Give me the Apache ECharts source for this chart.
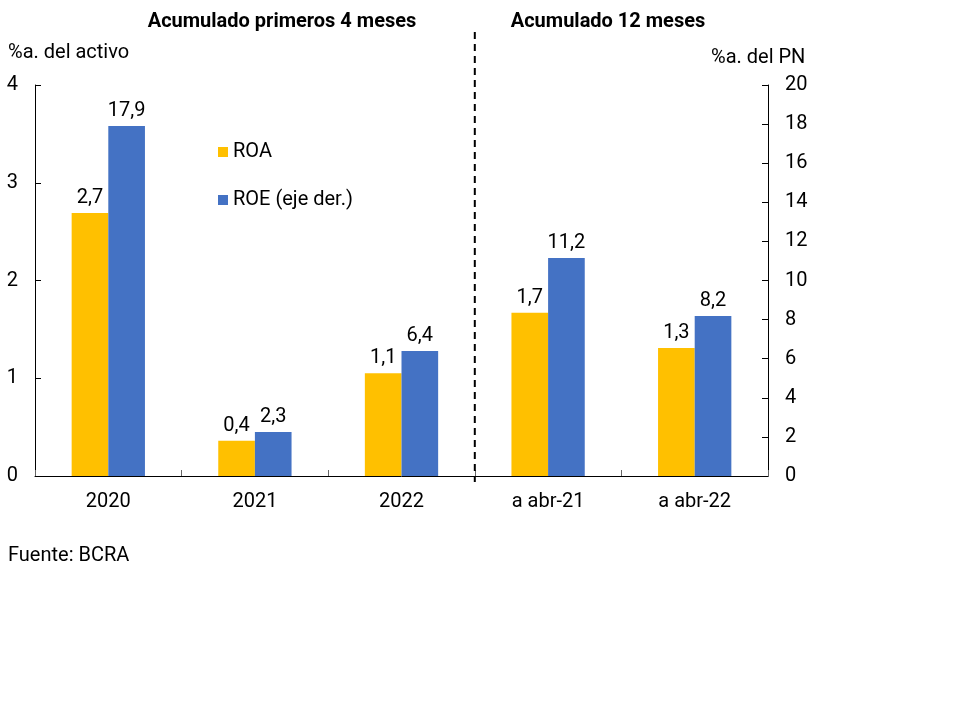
<!DOCTYPE html>
<html><head><meta charset="utf-8">
<script src="https://cdn.jsdelivr.net/npm/echarts@6/dist/echarts.min.js"></script>
<style>html,body{margin:0;padding:0;background:#fff}#c{width:960px;height:720px}</style>
</head><body><div id="c"></div>
<script>
const categories = ['2020','2021','2022','a abr-21','a abr-22'];
const roa = [2.69, 0.36, 1.05, 1.67, 1.31];
const roe = [17.9, 2.25, 6.39, 11.15, 8.18];
const leftTicks = [0, 4, 1];   // min, max, interval
const rightTicks = [0, 20, 2];
const FONT = 'Roboto';
const FS = 20;
const fmt = p => p.value.toFixed(1).replace('.', ',');
const chart = echarts.init(document.getElementById('c'));
const grid = {left: 35, right: 192, top: 85, bottom: 244};
const axisLine = {show: true, lineStyle: {color: '#000', width: 1}};
const t = (o) => Object.assign({padding: 0}, o);
chart.setOption({
  animation: false,
  textStyle: {fontFamily: FONT},
  title: [
    t({text: 'Acumulado primeros 4 meses', left: 282, top: 12, textAlign: 'center',
     textStyle: {fontFamily: FONT, fontSize: FS, fontWeight: 'bold', color: '#000'}}),
    t({text: 'Acumulado 12 meses', left: 608, top: 12, textAlign: 'center',
     textStyle: {fontFamily: FONT, fontSize: FS, fontWeight: 'bold', color: '#000'}}),
    t({text: '%a. del activo', left: 8, top: 43,
     textStyle: {fontFamily: FONT, fontSize: FS, fontWeight: 'normal', color: '#000'}}),
    t({text: '%a. del PN', left: 711, top: 48,
     textStyle: {fontFamily: FONT, fontSize: FS, fontWeight: 'normal', color: '#000'}}),
    t({text: 'Fuente: BCRA', left: 8, top: 546,
     textStyle: {fontFamily: FONT, fontSize: FS, fontWeight: 'normal', color: '#000'}})
  ],
  legend: {
    orient: 'vertical', left: 218, top: 142, padding: 0, itemWidth: 10, itemHeight: 10, itemGap: 28, itemTextGap: 10,
    icon: 'rect', textStyle: {fontFamily: FONT, fontSize: FS, color: '#000'},
    data: ['ROA', 'ROE (eje der.)']
  },
  grid: grid,
  xAxis: {
    type: 'category', data: categories,
    axisLine: axisLine,
    axisTick: {show: true, inside: true, length: 6, alignWithLabel: false, lineStyle: {color: '#666'}},
    axisLabel: {fontFamily: FONT, fontSize: FS, color: '#000', margin: 16}
  },
  yAxis: [
    {type: 'value', min: leftTicks[0], max: leftTicks[1], interval: leftTicks[2],
     axisLine: axisLine, axisTick: {show: true, inside: true, length: 6, lineStyle: {color: '#000'}},
     splitLine: {show: false},
     axisLabel: {fontFamily: FONT, fontSize: FS, color: '#000', margin: 17}},
    {type: 'value', min: rightTicks[0], max: rightTicks[1], interval: rightTicks[2], position: 'right',
     axisLine: axisLine, axisTick: {show: true, inside: true, length: 6, lineStyle: {color: '#000'}},
     splitLine: {show: false},
     axisLabel: {fontFamily: FONT, fontSize: FS, color: '#000', margin: 17}}
  ],
  series: [
    {name: 'ROA', type: 'bar', data: roa, yAxisIndex: 0, barGap: '0%', barCategoryGap: '50%',
     itemStyle: {color: '#FFC000'},
     label: {show: true, position: 'top', formatter: fmt, fontFamily: FONT, fontSize: FS, color: '#000', distance: 5}},
    {name: 'ROE (eje der.)', type: 'bar', data: roe, yAxisIndex: 1, barGap: '0%', barCategoryGap: '50%',
     itemStyle: {color: '#4472C4'},
     label: {show: true, position: 'top', formatter: fmt, fontFamily: FONT, fontSize: FS, color: '#000', distance: 5}}
  ]
});
// dashed separator between the two groups (boundary between category 3 and 4)
const p2 = chart.convertToPixel({xAxisIndex: 0}, categories[2]);
const p3 = chart.convertToPixel({xAxisIndex: 0}, categories[3]);
const xs = (p2 + p3) / 2;
const y0 = chart.convertToPixel({yAxisIndex: 0}, 0);
chart.setOption({
  graphic: [{type: 'line', shape: {x1: xs, y1: 32, x2: xs, y2: y0 + 6},
    style: {stroke: '#000', lineWidth: 2, lineDash: [7, 5]}, z: 100}]
});
</script></body></html>
